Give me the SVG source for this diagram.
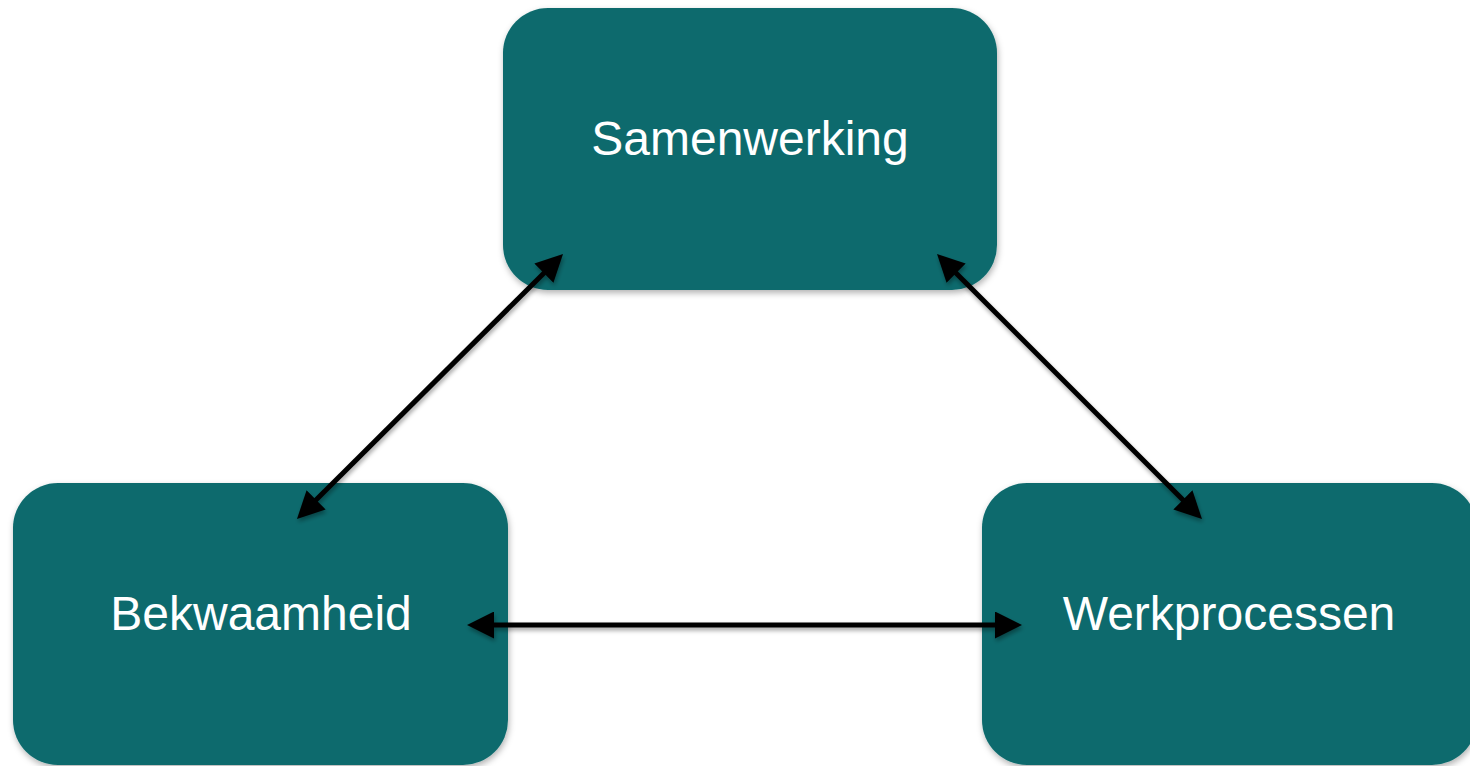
<svg xmlns="http://www.w3.org/2000/svg" width="1470" height="766" viewBox="0 0 1470 766">
<defs>
<style>
.box{fill:#0c6b6d;filter:url(#sh)}
.lbl{font-family:"Liberation Sans",Arial,sans-serif;font-size:48px;fill:#ffffff;text-anchor:middle}
.con{stroke:#000;stroke-width:5;fill:none;marker-start:url(#ah);marker-end:url(#ah)}
</style>
<filter id="sh" x="-10%" y="-10%" width="120%" height="125%">
<feDropShadow dx="1" dy="3" stdDeviation="3" flood-color="#000" flood-opacity="0.3"/>
</filter>
<filter id="sh2" filterUnits="userSpaceOnUse" x="0" y="0" width="1470" height="766">
<feDropShadow dx="1" dy="3" stdDeviation="2" flood-color="#000" flood-opacity="0.35"/>
</filter>
<marker id="ah" viewBox="0 0 10 10" refX="1" refY="5" markerWidth="27" markerHeight="27" markerUnits="userSpaceOnUse" orient="auto-start-reverse">
<path d="M0,0 L10,5 L0,10 Z" fill="#000"/>
</marker>
</defs>
<g id="node-samenwerking">
<rect class="box" x="503" y="8" width="494" height="282" rx="45" ry="45"/>
<text class="lbl" x="750" y="155">Samenwerking</text>
</g>
<g id="node-bekwaamheid">
<rect class="box" x="13" y="483" width="495" height="282" rx="45" ry="45"/>
<text class="lbl" x="261" y="630">Bekwaamheid</text>
</g>
<g id="node-werkprocessen">
<rect class="box" x="982" y="483" width="495" height="282" rx="45" ry="45"/>
<text class="lbl" x="1229" y="630">Werkprocessen</text>
</g>
<g id="connectors" filter="url(#sh2)">
<line class="con" x1="545.8" y1="271.2" x2="314.2" y2="501.8"/>
<line class="con" x1="954.2" y1="271.2" x2="1184.8" y2="501.8"/>
<line class="con" x1="491.3" y1="625" x2="997.7" y2="625"/>
</g>
</svg>
